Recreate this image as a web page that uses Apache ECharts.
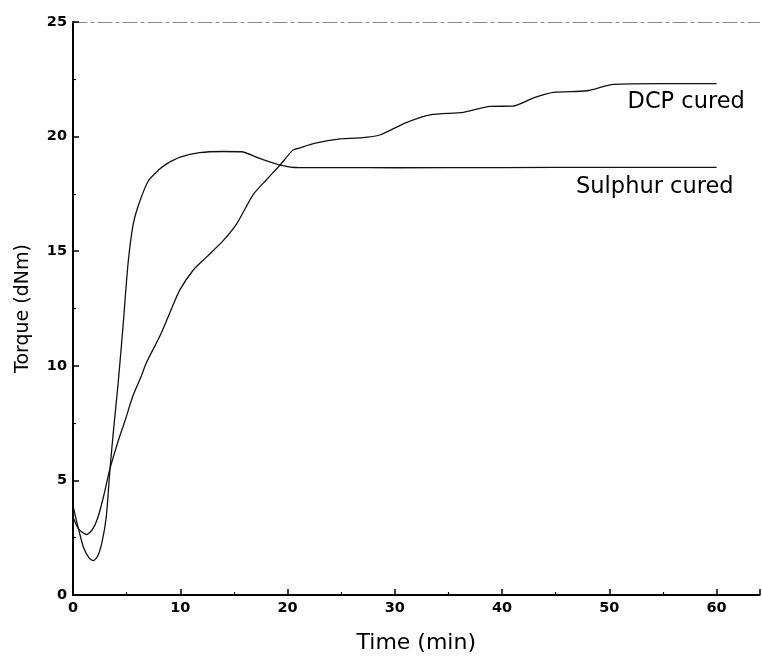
<!DOCTYPE html>
<html>
<head>
<meta charset="utf-8">
<script src="https://cdn.jsdelivr.net/npm/echarts@6/dist/echarts.min.js"></script>
<style>
html,body{margin:0;padding:0;background:#fff;overflow:hidden;}
#c{width:762px;height:659px;}
</style>
</head>
<body>
<div id="c"></div>
<script>
// ---- data ----
const xTicks = [0, 10, 20, 30, 40, 50, 60];
const yTicks = [0, 5, 10, 15, 20, 25];
const sulphurCured = [
  [0,3.9],[0.5,2.9],[1,2.05],[1.5,1.62],[1.9,1.5],[2.3,1.7],[2.7,2.3],[3.1,3.4],
  [3.45,5.5],[3.8,7.3],[4.2,9.2],[4.66,11.7],[5.13,14.45],[5.6,16.15],[6.06,16.95],
  [7.0,18.05],[8.0,18.55],[8.7,18.8],[10,19.1],[11.8,19.3],[14,19.35],[15.7,19.34],
  [17.4,19.05],[19.3,18.76],[21.1,18.65],[25,18.65],[30,18.64],[40,18.65],[50,18.66],[60,18.66]
];
const dcpCured = [
  [0,3.4],[0.5,2.9],[1.25,2.64],[1.8,2.85],[2.33,3.39],[2.9,4.4],[3.42,5.47],[4.2,6.7],
  [4.82,7.56],[5.6,8.7],[6.38,9.57],[6.85,10.14],[8.1,11.3],[9.02,12.3],[9.95,13.3],
  [11.2,14.17],[12.44,14.74],[14.0,15.46],[15.24,16.18],[16.8,17.47],[18.04,18.12],
  [19.3,18.76],[20.5,19.41],[21.1,19.5],[22.5,19.7],[24.9,19.9],[26.7,19.94],[28.6,20.07],
  [31,20.6],[33.3,20.95],[36.4,21.06],[38.9,21.32],[41,21.33],[43,21.7],[44.8,21.93],
  [47.9,22.0],[50.4,22.28],[55,22.31],[60,22.31]
];
const curveLabels = [
  {text: 'DCP cured', at: [51.7, 21.5]},
  {text: 'Sulphur cured', at: [46.9, 17.8]}
];
const xName = 'Time (min)';
const yName = 'Torque (dNm)';

const FONT = '"DejaVu Sans", "Liberation Sans", Arial, sans-serif';
const chart = echarts.init(document.getElementById('c'), null, {renderer: 'canvas'});

const option = {
  backgroundColor: '#fff',
  animation: false,
  grid: {left: 73, right: 2.5, top: 22, bottom: 57},
  xAxis: [{
    type: 'value', min: 0, max: 64, interval: 10, position: 'bottom',
    name: xName, nameLocation: 'middle', nameGap: 37,
    nameTextStyle: {fontFamily: FONT, fontSize: 22, color: '#000'},
    axisLine: {onZero: false, lineStyle: {color: '#000', width: 2}},
    axisTick: {inside: true, length: 6, lineStyle: {color: '#000', width: 1.5}},
    minorTick: {show: true, splitNumber: 2, length: 3, lineStyle: {color: '#000', width: 1.2}},
    axisLabel: {fontFamily: FONT, fontSize: 14.5, fontWeight: 'bold', color: '#000', margin: 6, showMaxLabel: false,
      formatter: v => xTicks.includes(v) ? String(v) : ''},
    splitLine: {show: false}
  }, {
    type: 'value', min: 0, max: 64, position: 'top',
    axisLine: {show: true, onZero: false, lineStyle: {color: '#888', width: 1.2, type: [14, 4, 3, 4]}},
    axisTick: {show: false}, axisLabel: {show: false}, splitLine: {show: false}
  }],
  yAxis: {
    type: 'value', min: 0, max: 25, interval: 5,
    name: yName, nameLocation: 'middle', nameGap: 40, nameRotate: 90,
    nameTextStyle: {fontFamily: FONT, fontSize: 19, color: '#000'},
    axisLine: {show: true, onZero: false, lineStyle: {color: '#000', width: 2}},
    axisTick: {inside: true, length: 6, lineStyle: {color: '#000', width: 1.5}},
    minorTick: {show: true, splitNumber: 2, length: 3, lineStyle: {color: '#000', width: 1.2}},
    axisLabel: {fontFamily: FONT, fontSize: 14.5, fontWeight: 'bold', color: '#000', margin: 6,
      formatter: v => yTicks.includes(v) ? String(v) : ''},
    splitLine: {show: false}
  },
  series: [{
    name: 'Sulphur cured', type: 'line', data: sulphurCured, showSymbol: false,
    smooth: 0.25,
    lineStyle: {color: '#111', width: 1.3}
  }, {
    name: 'DCP cured', type: 'line', data: dcpCured, showSymbol: false,
    smooth: 0.25,
    lineStyle: {color: '#111', width: 1.3}
  }]
};
chart.setOption(option);

const graphics = curveLabels.map(l => {
  const p = chart.convertToPixel({gridIndex: 0}, l.at);
  return {
    type: 'text', x: p[0], y: p[1],
    style: {text: l.text, fontFamily: FONT, fontSize: 22.5, fill: '#000',
      textAlign: 'left', textVerticalAlign: 'middle'}
  };
});
chart.setOption({graphic: graphics});
</script>
</body>
</html>
